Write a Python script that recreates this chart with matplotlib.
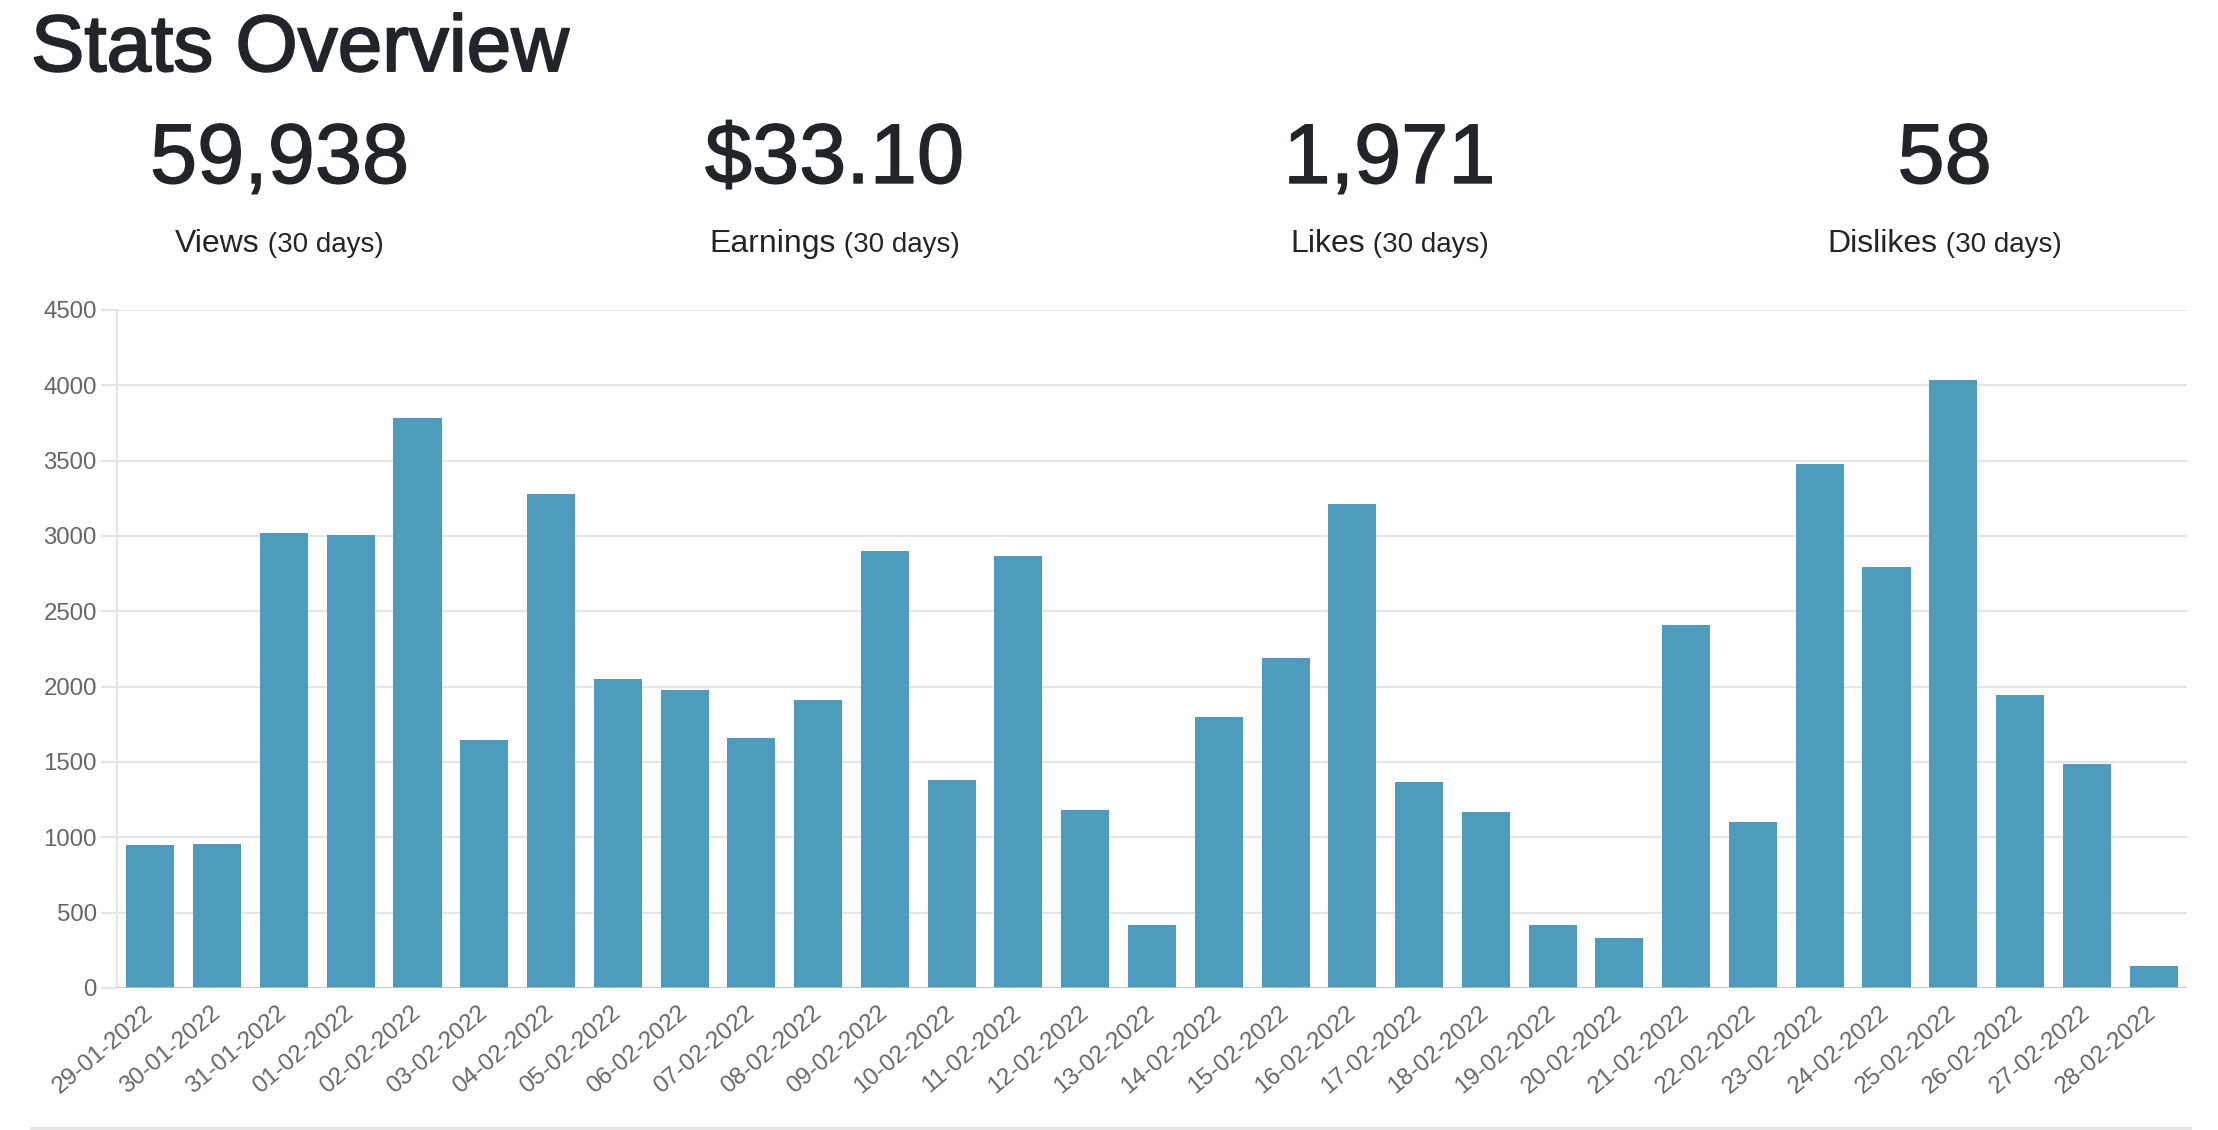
import matplotlib
matplotlib.use("Agg")
from matplotlib import pyplot as plt
from matplotlib.lines import Line2D
import matplotlib.patheffects as pe

# Data
dates = ['29-01-2022', '30-01-2022', '31-01-2022', '01-02-2022', '02-02-2022',
         '03-02-2022', '04-02-2022', '05-02-2022', '06-02-2022', '07-02-2022',
         '08-02-2022', '09-02-2022', '10-02-2022', '11-02-2022', '12-02-2022',
         '13-02-2022', '14-02-2022', '15-02-2022', '16-02-2022', '17-02-2022',
         '18-02-2022', '19-02-2022', '20-02-2022', '21-02-2022', '22-02-2022',
         '23-02-2022', '24-02-2022', '25-02-2022', '26-02-2022', '27-02-2022',
         '28-02-2022']
views = [950, 955, 3020, 3008, 3780, 1648, 3278, 2050, 1980, 1660,
         1910, 2900, 1382, 2868, 1180, 420, 1800, 2192, 3212, 1368,
         1168, 418, 330, 2408, 1100, 3478, 2795, 4035, 1948, 1488,
         147]

stat_values = ['59,938', '$33.10', '1,971', '58']
stat_names = ['Views', 'Earnings', 'Likes', 'Dislikes']
stat_period = '(30 days)'

W, H = 2218, 1130
plt.rcParams['font.family'] = ['Liberation Sans', 'DejaVu Sans']

fig = plt.figure(figsize=(W / 100, H / 100), dpi=100)

def fx(px):
    return px / W

def fy(py):
    return 1 - py / H

ink = '#212529'

# Header
fig.text(fx(31), fy(71), 'Stats Overview', fontsize=57.6, color=ink,
         va='baseline', ha='left',
         path_effects=[pe.withStroke(linewidth=1.4, foreground=ink)])

renderer = fig.canvas.get_renderer()
col_w = 555
for i, (val, name) in enumerate(zip(stat_values, stat_names)):
    cx = 2 + (i + 0.5) * col_w
    fig.text(fx(cx), fy(183), val, fontsize=61, color=ink,
             ha='center', va='baseline',
             path_effects=[pe.withStroke(linewidth=1.0, foreground=ink)])
    t1 = fig.text(0, fy(252), name, fontsize=23, color=ink, va='baseline')
    t2 = fig.text(0, fy(252), ' ' + stat_period, fontsize=20, color=ink,
                  va='baseline')
    w1 = t1.get_window_extent(renderer).width
    w2 = t2.get_window_extent(renderer).width
    x0 = cx - (w1 + w2) / 2
    t1.set_x(fx(x0))
    t2.set_x(fx(x0 + w1))

# Chart
ax = fig.add_axes([fx(117), 1 - 988 / H, (2187 - 117) / W, (988 - 310) / H])
x = range(len(dates))
ax.bar(x, views, width=0.72, color='#4e9cbd', zorder=3)
ax.set_xlim(-0.5, len(dates) - 0.5)
ax.set_ylim(0, 4500)
ax.set_yticks(range(0, 4501, 500))
ax.set_xticks(list(x))
ax.set_xticklabels(dates, rotation=40, ha='right', va='center',
                   rotation_mode='anchor')

ax.grid(axis='y', color='#e5e5e5', linewidth=1.5, zorder=0)
ax.axhline(0, color='#c0c0c0', linewidth=1.8, zorder=4)
for side in ['top', 'right', 'bottom']:
    ax.spines[side].set_visible(False)
ax.spines['left'].set_color('#e5e5e5')
ax.spines['left'].set_linewidth(1.5)

ax.tick_params(axis='y', length=11.5, width=1.5, color='#e5e5e5',
               labelcolor='#666666', labelsize=17.3, pad=3)
ax.tick_params(axis='x', length=0, labelcolor='#666666', labelsize=17.3, pad=16)

# Rule under the section
fig.add_artist(Line2D([fx(31), fx(2190)], [fy(1128), fy(1128)],
                      color='#e6e6e6', linewidth=2.2))

fig.savefig('out.png', dpi=100, facecolor='white')
